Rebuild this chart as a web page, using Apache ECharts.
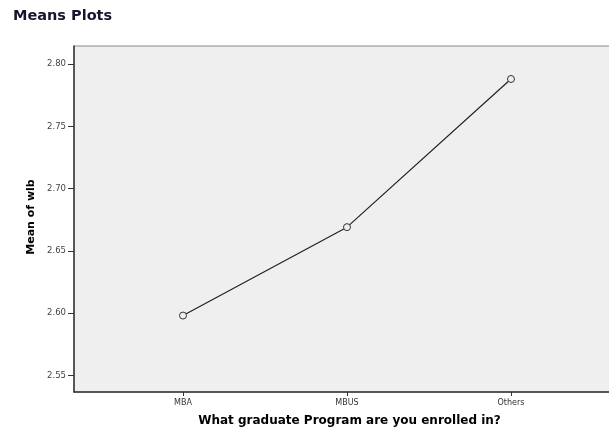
<!DOCTYPE html>
<html><head><meta charset="utf-8">
<script src="https://cdn.jsdelivr.net/npm/echarts@6/dist/echarts.min.js"></script>
<style>html,body{margin:0;padding:0;background:#fff;}#c{width:609px;height:430px;}</style>
</head><body><div id="c"></div>
<script>
const categories = ["MBA", "MBUS", "Others"];
const meanValues = [2.598, 2.669, 2.788];
const yTicks = [2.55, 2.60, 2.65, 2.70, 2.75, 2.80];
const chartTitle = "Means Plots";
const xTitle = "What graduate Program are you enrolled in?";
const yTitle = "Mean of wlb";

const catIdx = categories.map((c, i) => i);
const points = meanValues.map((v, i) => [catIdx[i], v]);

const chart = echarts.init(document.getElementById('c'));
chart.setOption({
  animation: false,
  backgroundColor: '#ffffff',
  title: {
    text: chartTitle, left: 8, top: 4,
    textStyle: { fontFamily: 'DejaVu Sans', fontWeight: 'bold', fontSize: 14.5, color: '#15152e' }
  },
  grid: {
    left: 74, right: -4, top: 46, bottom: 38,
    outerBoundsMode: 'none', containLabel: false,
    show: true, backgroundColor: '#efefef', borderColor: '#8a8a8a', borderWidth: 1
  },
  xAxis: {
    type: 'value', min: -0.6646, max: 2.622,
    name: xTitle, nameLocation: 'middle', nameGap: 23,
    nameTextStyle: { fontFamily: 'DejaVu Sans', fontWeight: 'bold', fontSize: 12, color: '#000', padding: [0, 0, 0, 12] },
    axisLine: { show: true, onZero: false, lineStyle: { color: '#333', width: 1.5 } },
    axisTick: { show: true, inside: false, length: 4, customValues: catIdx, lineStyle: { color: '#333' } },
    axisLabel: {
      customValues: catIdx, margin: 7,
      formatter: v => categories[Math.round(v)],
      fontFamily: 'DejaVu Sans', fontSize: 8, color: '#333'
    },
    splitLine: { show: false }
  },
  yAxis: {
    type: 'value', min: 2.5366, max: 2.8145,
    name: yTitle, nameLocation: 'middle', nameGap: 37, nameRotate: 90,
    nameTextStyle: { fontFamily: 'DejaVu Sans', fontWeight: 'bold', fontSize: 11, color: '#000', padding: [0, 0, 0, 4] },
    axisLine: { show: true, onZero: false, lineStyle: { color: '#333', width: 1.5 } },
    axisTick: { show: true, inside: false, length: 6, customValues: yTicks, lineStyle: { color: '#333' } },
    axisLabel: {
      customValues: yTicks, margin: 8,
      formatter: v => v.toFixed(2),
      fontFamily: 'DejaVu Sans', fontSize: 8.5, color: '#444'
    },
    splitLine: { show: false }
  },
  series: [{
    type: 'line', data: points,
    symbol: 'circle', symbolSize: 7,
    itemStyle: { color: '#efefef', borderColor: '#333', borderWidth: 1 },
    lineStyle: { color: '#222', width: 1.2 }
  }]
});
</script></body></html>
